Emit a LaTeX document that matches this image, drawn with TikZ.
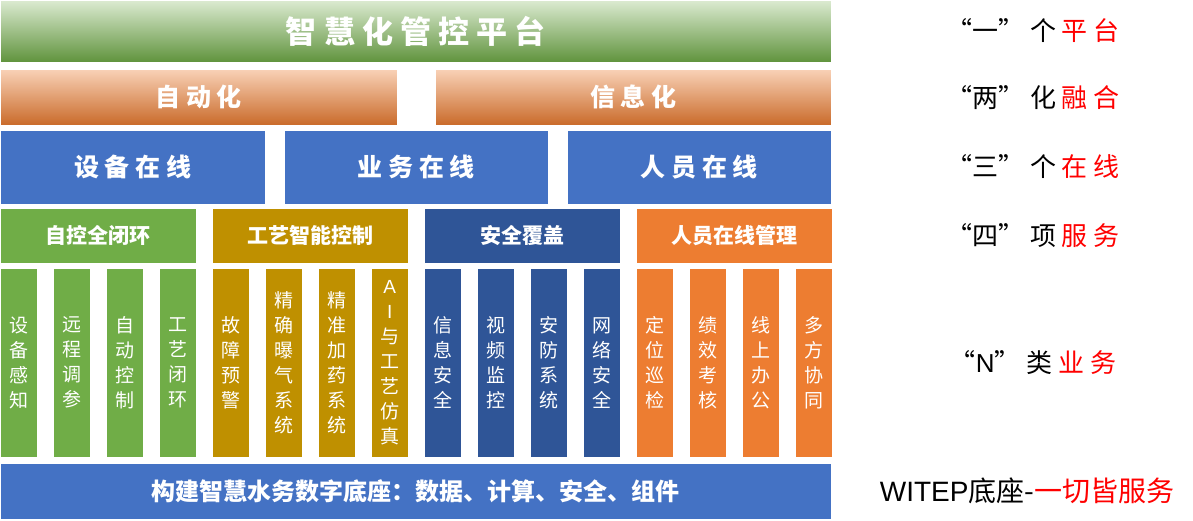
\documentclass[tikz,border=0pt]{standalone}
\usepackage{fontspec}
\setmainfont{Noto Sans CJK SC}
\newfontfamily\latinfont{Liberation Sans}
\usepackage{xcolor}
\definecolor{cgreen}{HTML}{70AD47}
\definecolor{corange}{HTML}{ED7D31}
\definecolor{cblue}{HTML}{4472C4}
\definecolor{cgold}{HTML}{BF9000}
\definecolor{cdblue}{HTML}{2F5597}
\definecolor{cred}{HTML}{FF0000}
\begin{document}
\begin{tikzpicture}[x=1pt,y=-1pt,
  box/.style={draw=white,line width=0.5pt,inner sep=0pt,text=white,font=\bfseries},
  bar/.style={box,font=\bfseries\fontsize{25}{25}\selectfont},
  sub/.style={box,font=\bfseries\fontsize{21}{21}\selectfont},
  vbox/.style={box,align=center,font=\fontsize{19}{25}\selectfont},
  side/.style={anchor=center,font=\fontsize{26}{26}\selectfont}]
\useasboundingbox (0,0) rectangle (1193,520);

% top platform
\node[bar,minimum width=831,minimum height=62,anchor=north west,top color=cgreen!25!white,bottom color=cgreen!85!black,font=\bfseries\fontsize{31}{31}\selectfont] (plat) at (0,0) {智 慧 化 管 控 平 台};

% two fusion bars
\node[bar,minimum width=397,minimum height=56,anchor=north west,top color=corange!35!white,bottom color=corange!85!black] (auto) at (0,69) {自 动 化};
\node[bar,minimum width=396,minimum height=56,anchor=north west,top color=corange!35!white,bottom color=corange!85!black] (info) at (435,69) {信 息 化};

% three online bars
\node[bar,fill=cblue,minimum width=265,minimum height=74,anchor=north west] (dev) at (0,130) {设 备 在 线};
\node[bar,fill=cblue,minimum width=264,minimum height=74,anchor=north west] (biz) at (284,130) {业 务 在 线};
\node[bar,fill=cblue,minimum width=264,minimum height=74,anchor=north west] (man) at (567,130) {人 员 在 线};

% four service headers
\foreach \n/\x/\c/\t in {s1/0/cgreen/自控全闭环, s2/212/cgold/工艺智能控制, s3/424/cdblue/安全覆盖, s4/636/corange/人员在线管理}
  \node[sub,fill=\c,minimum width=196,minimum height=55,anchor=north west] (\n) at (\x,208) {\t};

% N business columns
\foreach \n/\x/\c/\t in {
  v1/0/cgreen/{设\\备\\感\\知}, v2/53/cgreen/{远\\程\\调\\参}, v3/106/cgreen/{自\\动\\控\\制}, v4/159/cgreen/{工\\艺\\闭\\环},
  v5/212/cgold/{故\\障\\预\\警}, v6/265/cgold/{精\\确\\曝\\气\\系\\统}, v7/318/cgold/{精\\准\\加\\药\\系\\统}, v8/371/cgold/{{\latinfont A}\\{\latinfont I}\\与\\工\\艺\\仿\\真},
  v9/424/cdblue/{信\\息\\安\\全}, v10/477/cdblue/{视\\频\\监\\控}, v11/530/cdblue/{安\\防\\系\\统}, v12/583/cdblue/{网\\络\\安\\全},
  v13/636/corange/{定\\位\\巡\\检}, v14/689/corange/{绩\\效\\考\\核}, v15/742/corange/{线\\上\\办\\公}, v16/795/corange/{多\\方\\协\\同}}
  \node[vbox,fill=\c,minimum width=37,minimum height=189,anchor=north west] (\n) at (\x,268) {\t};

% base
\node[sub,fill=cblue,minimum width=831,minimum height=56,anchor=north west,font=\bfseries\fontsize{24}{24}\selectfont] (base) at (0,463) {构建智慧水务数字底座：数据、计算、安全、组件};

% right side labels
\node[side] (l1) at (1033,31) {“一”\ 个 \textcolor{cred}{平 台}};
\node[side] (l2) at (1033,98) {“两”\ 化 \textcolor{cred}{融 合}};
\node[side] (l3) at (1033,167) {“三”\ 个 \textcolor{cred}{在 线}};
\node[side] (l4) at (1033,236) {“四”\ 项 \textcolor{cred}{服 务}};
\node[side] (l5) at (1033,363) {“{\latinfont N}”\ 类 \textcolor{cred}{业 务}};
\node[side,font=\fontsize{28}{28}\selectfont] (l6) at (1027,491) {{\latinfont WITEP}底座-\textcolor{cred}{一切皆服务}};
\end{tikzpicture}
\end{document}
